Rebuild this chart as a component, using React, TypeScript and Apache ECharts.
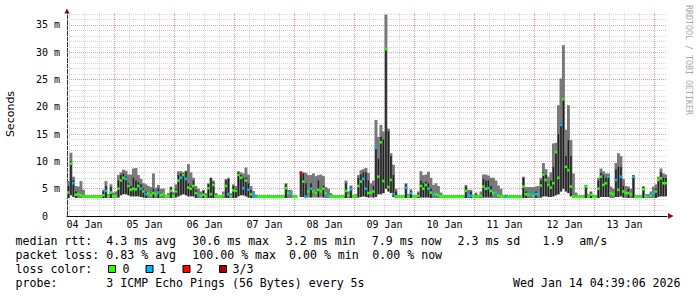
import React, { useEffect, useRef } from 'react';
import * as echarts from 'echarts';

// hours after 04 Jan 00:00 of the first hourly sample
const firstHour = 5;

// median RTT (ms), one value per hour, null = no data
const medianMs: (number | null)[] = [
  // 04 Jan
  4.3, 9.6, 6.0, 3.9, 4.0, 3.8, 3.6, 3.5, 3.5, 3.5, 3.5, 3.5, 3.5, 3.5, 3.8, 4.6, 3.6, 4.3, 3.6,
  // 05 Jan
  3.6, 5.0, 6.5, 7.0, 6.8, 5.5, 4.8, 5.0, 4.9, 5.5, 5.0, 4.5, 4.0, 4.2, 3.8, 4.2, 4.0, 4.3, 3.8, 4.0, 3.5, 3.6, 4.6, 3.6,
  // 06 Jan
  4.5, 6.5, 7.0, 7.5, 6.8, 5.2, 5.0, 5.5, 4.2, 3.9, 3.7, 3.9, 3.6, 5.1, 4.0, 5.7, 3.6, 3.5, 3.5, 3.8, 5.5, 4.0, 3.6, 4.7,
  // 07 Jan
  4.6, 7.5, 7.0, 5.1, 6.5, 4.8, 4.0, 3.8, 3.5, 3.5, 3.5, 3.5, 3.5, 3.5, 3.5, 3.5, 3.5, 3.5, 3.5, 3.5, 5.1, 4.2, 4.3, 3.5,
  // 08 Jan
  3.5, null, 7.9, 6.3, 3.5, 4.5, 5.0, 4.5, 4.2, 4.8, 4.5, 5.0, 4.2, 3.7, 3.6, 3.5, 3.5, 3.5, 3.5, 3.5, 4.6, 3.8, 4.9, 3.5,
  // 09 Jan
  3.6, 5.5, 6.3, 6.8, 5.0, 4.2, 4.3, 4.5, 12.5, 7.2, 13.5, 6.4, 30.6, 5.3, 6.6, 4.0, 3.6, 3.5, 3.5, 3.5, 5.2, 3.6, 4.2, 3.5,
  // 10 Jan
  3.5, 3.7, 5.5, 5.0, 5.7, 5.0, 4.3, 3.9, 4.0, 3.8, 3.6, 3.5, 3.5, 3.5, 3.5, 3.5, 3.5, 3.5, 3.5, 3.5, 4.6, 3.8, 3.7, 3.5,
  // 11 Jan
  3.6, 3.5, 3.7, 5.4, 5.0, 5.1, 4.6, 4.2, 4.3, 3.8, 3.6, 3.5, 3.5, 3.5, 3.5, 3.5, 3.5, 3.5, 3.5, 5.4, 4.0, 3.9, 4.0, 3.7,
  // 12 Jan
  4.0, 4.0, 5.6, 7.6, 6.6, 5.7, 5.2, 6.0, 11.7, 7.0, 16.7, 21.4, 9.0, 8.4, 5.4, 3.6, 3.5, 3.5, 3.5, 3.5, 5.4, 3.6, 3.9, 3.5,
  // 13 Jan
  3.5, 5.0, 7.2, 5.7, 6.0, 7.2, 4.2, 4.0, 6.6, 4.8, 7.2, 4.5, 4.2, 4.2, 4.0, 7.2, 3.5, 3.5, 3.5, 4.9, 3.6, 3.6, 3.7, 4.2,
  // 14 Jan
  4.5, 6.6, 6.9, 6.0, 6.0,
];

// lower edge of the smoke (ms)
const smokeLowMs: (number | null)[] = [
  3.3, 3.8, 3.5, 3.3, 3.3, 3.3, 3.3, 3.3, 3.3, 3.3, 3.3, 3.3, 3.3, 3.3, 3.3, 3.3, 3.3, 3.3, 3.3,
  3.3, 3.4, 3.8, 4.0, 4.0, 3.8, 3.6, 3.6, 3.6, 3.6, 3.5, 3.4, 3.3, 3.3, 3.3, 3.3, 3.3, 3.3, 3.3, 3.3, 3.3, 3.3, 3.3, 3.3,
  3.4, 3.6, 3.8, 4.0, 3.8, 3.6, 3.6, 3.6, 3.3, 3.3, 3.3, 3.3, 3.3, 3.3, 3.3, 3.3, 3.3, 3.3, 3.3, 3.3, 3.3, 3.3, 3.3, 3.3,
  3.3, 3.6, 3.8, 3.8, 3.6, 3.4, 3.3, 3.3, 3.3, 3.3, 3.3, 3.3, 3.3, 3.3, 3.3, 3.3, 3.3, 3.3, 3.3, 3.3, 3.3, 3.3, 3.3, 3.3,
  3.3, null, 3.5, 3.5, 3.3, 3.4, 3.4, 3.4, 3.4, 3.4, 3.4, 3.4, 3.3, 3.3, 3.3, 3.3, 3.3, 3.3, 3.3, 3.3, 3.3, 3.3, 3.3, 3.3,
  3.3, 3.4, 3.5, 3.6, 3.5, 3.4, 3.4, 3.4, 3.5, 4.0, 4.0, 4.2, 5.0, 4.5, 4.2, 3.5, 3.3, 3.3, 3.3, 3.3, 3.3, 3.3, 3.3, 3.3,
  3.3, 3.3, 3.4, 3.4, 3.4, 3.4, 3.3, 3.3, 3.3, 3.3, 3.3, 3.3, 3.3, 3.3, 3.3, 3.3, 3.3, 3.3, 3.3, 3.3, 3.3, 3.3, 3.3, 3.3,
  3.3, 3.3, 3.3, 3.4, 3.4, 3.4, 3.4, 3.3, 3.3, 3.3, 3.3, 3.3, 3.3, 3.3, 3.3, 3.3, 3.3, 3.3, 3.3, 3.3, 3.3, 3.3, 3.3, 3.3,
  3.3, 3.3, 3.4, 3.6, 3.6, 3.5, 3.5, 3.6, 3.8, 4.0, 4.5, 5.0, 4.5, 4.2, 3.6, 3.3, 3.3, 3.3, 3.3, 3.3, 3.3, 3.3, 3.3, 3.3,
  3.3, 3.3, 3.5, 3.5, 3.5, 3.5, 3.3, 3.3, 3.5, 3.5, 3.6, 3.4, 3.3, 3.3, 3.3, 3.3, 3.3, 3.3, 3.3, 3.3, 3.3, 3.3, 3.3, 3.3,
  3.3, 3.5, 3.6, 3.6, 3.6,
];

// upper edge of the smoke (ms)
const smokeHighMs: (number | null)[] = [
  6.4, 11.6, 7.2, 5.5, 5.4, 6.4, 4.8, 3.8, 3.8, 3.8, 3.8, 3.8, 3.8, 3.8, 4.8, 6.4, 4.0, 5.8, 4.3,
  4.5, 7.5, 8.0, 8.5, 8.3, 7.6, 7.6, 8.7, 8.8, 7.5, 6.8, 6.0, 5.8, 5.5, 5.3, 7.8, 5.2, 5.7, 5.0, 5.0, 3.8, 4.2, 5.4, 4.4,
  5.8, 8.2, 8.2, 8.0, 8.3, 9.5, 8.0, 7.0, 5.5, 5.0, 4.5, 4.8, 4.2, 6.0, 7.0, 6.5, 4.2, 3.8, 3.8, 4.5, 6.8, 7.0, 4.2, 5.8,
  5.5, 8.2, 8.0, 7.8, 8.9, 7.6, 5.5, 4.6, 3.9, 3.8, 3.8, 3.8, 3.8, 3.8, 3.8, 3.8, 3.8, 3.8, 3.8, 3.8, 6.0, 4.8, 4.8, 3.8,
  3.8, null, 8.2, 8.0, 7.9, 7.5, 7.5, 7.8, 7.3, 7.5, 7.6, 7.3, 5.3, 5.0, 4.2, 3.8, 3.8, 3.8, 3.8, 3.8, 6.5, 4.5, 5.6, 3.8,
  4.0, 7.5, 8.4, 8.6, 8.8, 7.9, 6.0, 6.5, 17.6, 14.5, 16.7, 15.5, 36.9, 16.0, 11.5, 9.4, 5.0, 3.8, 3.8, 3.8, 6.0, 4.0, 4.9, 3.8,
  3.8, 4.5, 8.2, 7.5, 7.6, 8.1, 7.0, 5.7, 6.0, 5.5, 4.3, 3.8, 3.8, 3.8, 3.8, 3.8, 3.8, 3.8, 3.8, 3.8, 5.7, 4.8, 4.8, 3.8,
  4.3, 3.8, 4.5, 7.6, 7.6, 7.4, 7.0, 7.0, 6.5, 5.6, 5.0, 3.8, 3.9, 3.8, 3.8, 3.8, 3.8, 3.8, 3.8, 7.2, 5.3, 5.3, 5.3, 5.3,
  5.4, 5.5, 7.0, 9.7, 8.6, 7.2, 8.0, 13.3, 13.4, 20.3, 25.2, 31.3, 15.8, 20.3, 13.9, 7.8, 4.3, 3.8, 3.8, 3.8, 5.7, 4.0, 4.5, 3.8,
  3.8, 7.0, 8.7, 8.2, 7.8, 7.8, 5.4, 5.0, 9.7, 11.5, 11.0, 6.8, 5.5, 5.4, 5.0, 7.5, 3.8, 3.8, 3.8, 5.4, 4.0, 4.0, 4.5, 5.4,
  5.8, 7.2, 8.7, 7.8, 7.6,
];

// top of the dark core of the smoke (ms), 0 = none
const darkHighMs: (number | null)[] = [
  5.5, 10.0, 6.5, 4.5, 0, 0, 0, 0, 0, 0, 0, 0, 0, 0, 4.5, 5.5, 0, 5.3, 0,
  0, 6.5, 7.5, 7.8, 7.2, 6.0, 5.5, 7.0, 6.5, 6.2, 5.8, 5.0, 4.5, 0, 0, 5.0, 0, 5.0, 0, 0, 0, 0, 5.2, 0,
  5.0, 7.5, 7.8, 7.8, 8.2, 6.0, 5.5, 6.5, 4.8, 0, 0, 4.6, 0, 5.8, 7.0, 6.2, 0, 0, 0, 0, 6.5, 6.8, 0, 5.5,
  5.0, 8.0, 7.5, 7.0, 7.0, 6.0, 4.8, 0, 0, 0, 0, 0, 0, 0, 0, 0, 0, 0, 0, 0, 5.8, 0, 0, 0,
  0, null, 7.9, 7.8, 6.0, 0, 6.0, 0, 0, 6.5, 0, 5.5, 0, 0, 0, 0, 0, 0, 0, 0, 6.0, 0, 5.2, 0,
  0, 7.0, 7.6, 8.0, 8.0, 6.5, 0, 5.5, 12.7, 10.5, 14.5, 14.0, 30.6, 15.5, 11.0, 7.5, 4.5, 0, 0, 0, 5.8, 0, 4.6, 0,
  0, 4.2, 6.5, 6.0, 6.3, 6.0, 5.0, 0, 0, 0, 0, 0, 0, 0, 0, 0, 0, 0, 0, 0, 5.4, 0, 4.5, 0,
  4.0, 0, 0, 6.8, 6.5, 6.5, 5.5, 0, 0, 0, 0, 0, 0, 0, 0, 0, 0, 0, 0, 7.0, 4.5, 0, 0, 0,
  4.5, 0, 6.5, 8.0, 7.5, 6.0, 6.5, 9.0, 11.8, 15.0, 17.0, 21.6, 11.0, 13.9, 11.0, 0, 0, 0, 0, 0, 5.6, 0, 4.3, 0,
  0, 6.5, 7.9, 7.5, 7.0, 7.4, 0, 0, 8.5, 9.0, 9.0, 5.5, 0, 5.0, 0, 7.5, 0, 0, 0, 5.4, 0, 0, 0, 0,
  5.0, 6.8, 8.0, 7.0, 7.0,
];

// lost pings out of 3 in the hour
const lossCount: (number | null)[] = [
  0, 0, 1, 0, 0, 0, 0, 0, 0, 0, 0, 0, 0, 0, 0, 1, 0, 0, 0,
  0, 0, 0, 0, 1, 0, 0, 0, 0, 0, 1, 0, 1, 0, 0, 0, 0, 1, 0, 0, 0, 0, 0, 0,
  0, 0, 1, 0, 1, 0, 0, 0, 0, 1, 0, 0, 0, 0, 0, 0, 0, 0, 0, 0, 0, 1, 0, 0,
  0, 0, 0, 1, 0, 1, 0, 1, 1, 0, 0, 0, 0, 0, 0, 0, 0, 0, 0, 0, 0, 0, 1, 0,
  0, null, 2, 0, 1, 0, 1, 0, 0, 0, 0, 0, 0, 1, 0, 0, 0, 0, 0, 0, 0, 0, 1, 0,
  0, 0, 0, 1, 1, 0, 0, 0, 1, 0, 0, 0, 0, 0, 0, 1, 0, 0, 0, 0, 1, 0, 1, 0,
  0, 0, 0, 0, 0, 1, 0, 1, 0, 0, 0, 0, 0, 0, 0, 0, 0, 0, 0, 0, 0, 1, 1, 0,
  0, 0, 0, 0, 0, 1, 0, 0, 1, 0, 0, 0, 1, 0, 0, 0, 0, 0, 0, 0, 0, 0, 1, 0,
  1, 1, 0, 0, 0, 0, 0, 0, 0, 0, 1, 0, 0, 0, 0, 0, 0, 0, 0, 0, 0, 0, 0, 0,
  0, 0, 0, 0, 0, 1, 0, 0, 1, 0, 1, 0, 0, 0, 0, 1, 0, 0, 0, 0, 0, 1, 0, 1,
  0, 0, 0, 0, 0,
];

const lossColors = ['#26ff00', '#00b8ff', '#ff0000', '#a00000'];
const lossLabels = ['0', '1', '2', '3/3'];

// x axis: hours after 04 Jan 00:00
const axisStartHour = 5;
const axisEndHour = 245;
const dayLabels = ['04 Jan', '05 Jan', '06 Jan', '07 Jan', '08 Jan', '09 Jan', '10 Jan', '11 Jan', '12 Jan', '13 Jan'];
const dayLabelHours = [12, 36, 60, 84, 108, 132, 156, 180, 204, 228];
const yTickValues = [0, 5, 10, 15, 20, 25, 30, 35];
const yMax = 37.38;

const legendRows: { text: string; x: number }[][] = [
  [
    { text: 'median rtt:', x: 15.5 },
    { text: '4.3 ms avg', x: 106.3 },
    { text: '30.6 ms max', x: 192.3 },
    { text: '3.2 ms min', x: 285.8 },
    { text: '7.9 ms now', x: 371.8 },
    { text: '2.3 ms sd', x: 457.5 },
    { text: '1.9', x: 542.5 },
    { text: 'am/s', x: 579.3 },
  ],
  [
    { text: 'packet loss:', x: 15.5 },
    { text: '0.83 % avg', x: 106.3 },
    { text: '100.00 % max', x: 192.3 },
    { text: '0.00 % min', x: 289 },
    { text: '0.00 % now', x: 372.3 },
  ],
  [{ text: 'loss color:', x: 15.5 }],
  [
    { text: 'probe:', x: 15.5 },
    { text: '3 ICMP Echo Pings (56 Bytes) every 5s', x: 106.3 },
    { text: 'Wed Jan 14 04:39:06 2026', x: 513 },
  ],
];
const legendRowY = [241, 255, 269, 283];
const lossBoxX = [108, 145.5, 182.5, 219];
const lossLabelX = [122.6, 159.3, 196, 232.6];

const MONO = '"DejaVu Sans Mono", monospace';

export default function App() {
  const ref = useRef<HTMLDivElement>(null);
  useEffect(() => {
    if (!ref.current) return;
    const chart = echarts.init(ref.current, undefined, { renderer: 'svg' });

    const data: number[][] = [];
    medianMs.forEach((m, i) => {
      if (m === null) return;
      data.push([
        firstHour + i,
        m,
        smokeLowMs[i] as number,
        smokeHighMs[i] as number,
        darkHighMs[i] as number,
        lossCount[i] as number,
      ]);
    });

    const gridLines: any[] = [];
    for (let h = 6; h < axisEndHour; h += 6) {
      if (h <= axisStartHour) continue;
      const major = h % 24 === 0;
      gridLines.push({
        xAxis: h,
        lineStyle: { color: major ? '#e99a9a' : '#d4d4d4', width: 1, type: [1, 1] },
      });
    }
    for (let v = 1; v <= 37; v++) {
      const major = v % 5 === 0;
      gridLines.push({
        yAxis: v,
        lineStyle: { color: major ? '#e99a9a' : '#d4d4d4', width: 1, type: [1, 1] },
      });
    }

    const textEls: any[] = [];
    legendRows.forEach((row, r) => {
      row.forEach((tok) => {
        textEls.push({
          type: 'text',
          x: tok.x,
          y: legendRowY[r],
          style: { text: tok.text, font: `11.6px ${MONO}`, fill: '#000', align: 'left', verticalAlign: 'middle' },
        });
      });
    });
    lossColors.forEach((c, i) => {
      textEls.push({
        type: 'rect',
        shape: { x: lossBoxX[i] + 0.5, y: legendRowY[2] - 3.5, width: 7, height: 7 },
        style: { fill: c, stroke: '#000', lineWidth: 1 },
      });
      textEls.push({
        type: 'text',
        x: lossLabelX[i],
        y: legendRowY[2],
        style: { text: lossLabels[i], font: `11.6px ${MONO}`, fill: '#000', align: 'left', verticalAlign: 'middle' },
      });
    });

    chart.setOption({
      animation: false,
      backgroundColor: '#ffffff',
      grid: { left: 67, right: 30, top: 12, bottom: 81, containLabel: false },
      xAxis: {
        type: 'value',
        min: axisStartHour,
        max: axisEndHour,
        axisLine: { show: true, onZero: false, lineStyle: { color: '#000', width: 1 } },
        axisTick: { show: false },
        splitLine: { show: false },
        axisLabel: {
          customValues: dayLabelHours,
          formatter: (v: number) => {
            const i = dayLabelHours.indexOf(v);
            return i >= 0 ? dayLabels[i] : '';
          },
          fontFamily: MONO,
          fontSize: 10,
          color: '#000',
          margin: 3,
        },
      },
      yAxis: {
        type: 'value',
        min: 0,
        max: yMax,
        axisLine: { show: true, lineStyle: { color: '#333', width: 1 } },
        axisTick: { show: false },
        splitLine: { show: false },
        axisLabel: {
          customValues: yTickValues,
          formatter: (v: number) => (v === 0 ? '{z|0}' : v + ' m'),
          rich: { z: { fontFamily: MONO, fontSize: 10, color: '#000', padding: [0, 12, 0, 0] } },
          fontFamily: MONO,
          fontSize: 10,
          color: '#000',
          margin: 7,
        },
      },
      graphic: [
        {
          type: 'text',
          x: 10,
          y: 114,
          rotation: Math.PI / 2,
          style: { text: 'Seconds', font: '11px "DejaVu Sans"', fill: '#000', align: 'center', verticalAlign: 'middle' },
        },
        {
          type: 'text',
          x: 688.5,
          y: 60,
          rotation: -Math.PI / 2,
          style: { text: 'RRDTOOL / TOBI OETIKER', font: `8.3px ${MONO}`, fill: '#a8a8a8', align: 'center', verticalAlign: 'middle' },
        },
        {
          type: 'polygon',
          shape: { points: [[67, 8.5], [64.3, 13.5], [69.7, 13.5]] },
          style: { fill: '#8b1010' },
        },
        {
          type: 'polygon',
          shape: { points: [[673.5, 216], [668, 213], [668, 219]] },
          style: { fill: '#8b1010' },
        },
        ...textEls,
      ],
      series: [
        {
          type: 'line',
          data: [],
          silent: true,
          z: 1,
          markLine: {
            silent: true,
            symbol: ['none', 'none'],
            label: { show: false },
            z: 1,
            animation: false,
            data: gridLines,
          },
        },
        {
          type: 'custom',
          z: 3,
          clip: true,
          encode: { x: 0, y: 1 },
          data,
          renderItem: (params: any, api: any) => {
            const t = api.value(0);
            const med = api.value(1);
            const lo = api.value(2);
            const hi = api.value(3);
            const dark = api.value(4);
            const loss = api.value(5);
            const pLo = api.coord([t, lo]);
            const pHi = api.coord([t + 1, hi]);
            const x0 = pLo[0];
            const w = pHi[0] - pLo[0] + 0.4;
            const children: any[] = [
              {
                type: 'rect',
                shape: { x: x0, y: pHi[1], width: w, height: pLo[1] - pHi[1] },
                style: { fill: '#787878' },
              },
            ];
            if (dark > 0) {
              const yD = api.coord([t, dark])[1];
              const dw = 1.5;
              children.push({
                type: 'rect',
                shape: { x: x0 + (w - dw) / 2, y: yD, width: dw, height: pLo[1] - yD },
                style: { fill: '#1e1e1e' },
              });
            }
            const yM = api.coord([t, med])[1];
            children.push({
              type: 'rect',
              shape: { x: x0, y: yM - 1.3, width: w, height: 2.6 },
              style: { fill: lossColors[loss] || lossColors[0] },
            });
            return { type: 'group', children };
          },
        },
      ],
    });
    return () => chart.dispose();
  }, []);
  return (
    <div
      ref={ref}
      style={{ position: 'absolute', left: 0, top: 0, width: 697, height: 297, background: '#fff' }}
    />
  );
}
